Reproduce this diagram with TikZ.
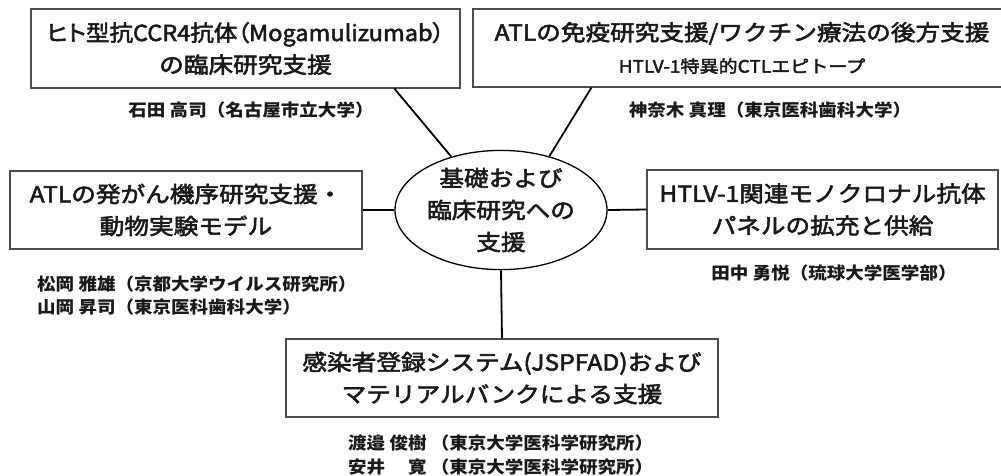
\documentclass[tikz,border=0pt]{standalone}
\usepackage{fontspec}
\usetikzlibrary{shapes.geometric,calc}
\newfontfamily\jp[FakeStretch=1.12,FakeBold=2.5]{Noto Sans CJK JP}
\newfontfamily\jpn[FakeStretch=1.09]{Noto Sans CJK JP}
\begin{document}
\begin{tikzpicture}[x=1pt,y=-1pt,
  box/.style={draw=black!70, line width=1.2pt, rectangle, inner sep=0pt, align=center,
    font=\jp\fontsize{22}{32}\selectfont, text=black!90},
  conn/.style={line width=1.8pt, draw=black},
  who/.style={font=\jpn\bfseries\fontsize{17}{23}\selectfont, inner sep=0pt, text=black!90}]
\useasboundingbox (0,0) rectangle (1001,475);
\fill[white] (0,0) rectangle (1001,475);

\node[box, minimum width=429, minimum height=79] (b1) at (245.5,48.5)
  {\scalebox{0.955}[1]{\addfontfeature{RawFeature=+palt}ヒト型抗CCR4抗体（Mogamulizumab）}\\の臨床研究支援};
\node[box, minimum width=538, minimum height=78] (b2) at (742,48)
  {ATLの免疫研究支援/ワクチン療法の後方支援\\[0pt]{\fontsize{17}{22}\selectfont HTLV-1特異的CTLエピトープ}};
\node[box, minimum width=352, minimum height=78] (b3) at (186,210)
  {ATLの発がん機序研究支援・\\動物実験モデル};
\node[box, minimum width=351, minimum height=79] (b4) at (822.5,209.5)
  {HTLV-1関連モノクロナル抗体\\パネルの拡充と供給};
\node[box, minimum width=432, minimum height=78] (b5) at (502,378)
  {感染者登録システム(JSPFAD)および\\マテリアルバンクによる支援};

\node[box, draw=black, line width=1.3pt, ellipse, minimum width=212, minimum height=116] (e) at (501,210)
  {基礎および\\臨床研究への\\支援};

\node[who] (n1) at (251,110) {石田 高司（名古屋市立大学）};
\node[who] (n2) at (770,110) {神奈木 真理（東京医科歯科大学）};
\node[who, anchor=west, align=left] (n3) at (37,296)
  {松岡 雅雄（京都大学ウイルス研究所）\\山岡 昇司（東京医科歯科大学）};
\node[who] (n4) at (834,273) {田中 勇悦（琉球大学医学部）};
\node[who, anchor=west, align=left, font=\jpn\bfseries\fontsize{17}{24}\selectfont] (n5) at (348,455.5)
  {渡邉 俊樹 （東京大学医科学研究所）\\安井 \phantom{俊}寛 （東京大学医科学研究所）};

\draw[conn] ($(b1.south west)+(364,0)$) -- (e.133);
\draw[conn] ($(b2.south west)+(119,0)$) -- (e.48);
\draw[conn] (b3.east) -- (e.west);
\draw[conn] (e.east) -- (b4.west);
\draw[conn] (e.south) -- (b5.north);
\end{tikzpicture}
\end{document}
